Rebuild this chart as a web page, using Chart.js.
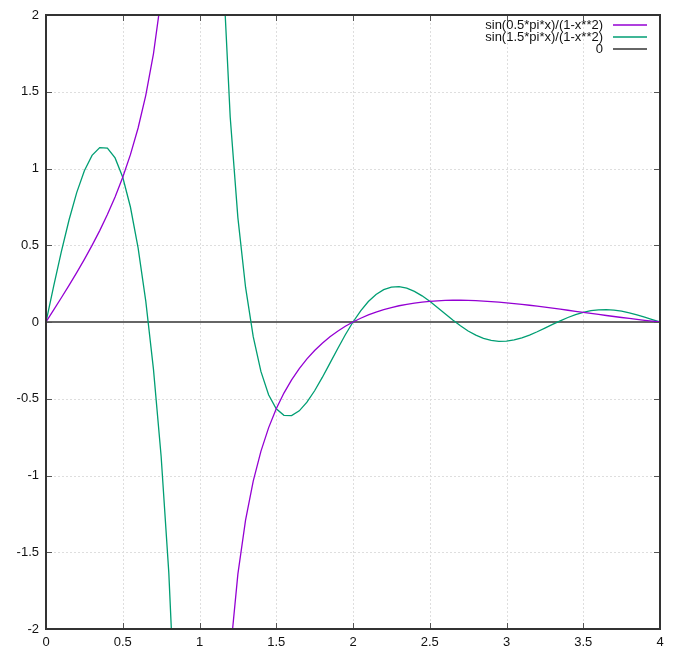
<!DOCTYPE html>
<html>
<head>
<meta charset="utf-8">
<script src="https://cdn.jsdelivr.net/npm/chart.js@4/dist/chart.umd.min.js"></script>
<style>
  html, body { margin: 0; padding: 0; background: #fff; }
  canvas { display: block; }
</style>
</head>
<body>
<canvas id="plot" width="681" height="652"></canvas>
<script>
(function () {
    "use strict";

    // sample positions along x (step 0.05)
    const xs = [
        0, 0.05, 0.1, 0.15, 0.2, 0.25, 0.3, 0.35, 0.4, 0.45, 0.5, 0.55, 0.6, 0.65, 0.7, 0.75, 0.8, 0.85, 0.9, 0.95,
        1, 1.05, 1.1, 1.15, 1.2, 1.25, 1.3, 1.35, 1.4, 1.45, 1.5, 1.55, 1.6, 1.65, 1.7, 1.75, 1.8, 1.85, 1.9, 1.95,
        2, 2.05, 2.1, 2.15, 2.2, 2.25, 2.3, 2.35, 2.4, 2.45, 2.5, 2.55, 2.6, 2.65, 2.7, 2.75, 2.8, 2.85, 2.9, 2.95,
        3, 3.05, 3.1, 3.15, 3.2, 3.25, 3.3, 3.35, 3.4, 3.45, 3.5, 3.55, 3.6, 3.65, 3.7, 3.75, 3.8, 3.85, 3.9, 3.95, 4
    ];

    // sin(0.5*pi*x)/(1-x**2)
    const halfPi = [
        0, 0.0787, 0.158, 0.2388, 0.3219, 0.4082, 0.4989, 0.5954, 0.6997, 0.8144, 0.9428, 1.0902, 1.2641, 1.4764, 1.7471, 2.1117, 2.6418, 3.504, 5.198, 10.22,
        null, -9.726, -4.703, -3.015, -2.1615, -1.6425, -1.2913, -1.0367, -0.8427, -0.6897, -0.5657, -0.4631, -0.3768, -0.3033, -0.2402, -0.1855, -0.138, -0.0964, -0.0599, -0.028,
        0, 0.0245, 0.0459, 0.0644, 0.0805, 0.0942, 0.1058, 0.1155, 0.1235, 0.1298, 0.1347, 0.1382, 0.1405, 0.1416, 0.1417, 0.1408, 0.139, 0.1365, 0.1333, 0.1294,
        0.125, 0.1201, 0.1147, 0.109, 0.1029, 0.0966, 0.0901, 0.0834, 0.0766, 0.0698, 0.0629, 0.056, 0.0492, 0.0424, 0.0358, 0.0293, 0.023, 0.0169, 0.011, 0.0054, 0
    ];

    // sin(1.5*pi*x)/(1-x**2)
    const threeHalfPi = [
        0, 0.234, 0.4586, 0.6644, 0.8427, 0.9855, 1.0854, 1.1361, 1.1322, 1.0691, 0.9428, 0.7491, 0.4828, 0.1359, -0.3067, -0.8747, -1.6327, -2.7402, -4.6895, -9.973,
        null, 9.4865, 4.2429, 2.3579, 1.3359, 0.6803, 0.2267, -0.0954, -0.3219, -0.4739, -0.5657, -0.6079, -0.6097, -0.5788, -0.5226, -0.4479, -0.3612, -0.2681, -0.1739, -0.0833,
        0, 0.0729, 0.1331, 0.1793, 0.2107, 0.2274, 0.2302, 0.2204, 0.1998, 0.1704, 0.1347, 0.095, 0.0537, 0.013, -0.0249, -0.0583, -0.0859, -0.1068, -0.1202, -0.1262,
        -0.125, -0.1171, -0.1035, -0.0852, -0.0636, -0.04, -0.0158, 0.0077, 0.0293, 0.0479, 0.0629, 0.0735, 0.0795, 0.0809, 0.0778, 0.0707, 0.0602, 0.047, 0.032, 0.016, 0
    ];

    const zeroX = [0, 4];
    const zeroY = [0, 0];

    const xTicks = [0, 0.5, 1, 1.5, 2, 2.5, 3, 3.5, 4];
    const yTicks = [-2, -1.5, -1, -0.5, 0, 0.5, 1, 1.5, 2];

    const FONT = "Liberation Sans, Arial, sans-serif";
    const pts = (xv, yv) => xv.map((x, i) => ({ x: x, y: yv[i] }));

    // gnuplot-like frame: dotted grid, heavy border, inward ticks, key at top right
    const frame = {
        id: "frame",
        beforeDatasetsDraw(chart) {
            const { ctx, chartArea: a, scales } = chart;
            ctx.save();
            ctx.strokeStyle = "#dedede";
            ctx.lineWidth = 1;
            ctx.setLineDash([2, 2]);
            xTicks.slice(1, -1).forEach((v) => {
                const px = Math.round(scales.x.getPixelForValue(v)) + 0.5;
                ctx.beginPath(); ctx.moveTo(px, a.top); ctx.lineTo(px, a.bottom); ctx.stroke();
            });
            yTicks.slice(1, -1).forEach((v) => {
                const py = Math.round(scales.y.getPixelForValue(v)) + 0.5;
                ctx.beginPath(); ctx.moveTo(a.left, py); ctx.lineTo(a.right, py); ctx.stroke();
            });
            ctx.restore();
        },
        afterDatasetsDraw(chart) {
            const { ctx, chartArea: a, scales } = chart;
            ctx.save();
            ctx.strokeStyle = "#555";
            ctx.lineWidth = 1;
            xTicks.forEach((v) => {
                const px = Math.round(scales.x.getPixelForValue(v)) + 0.5;
                ctx.beginPath(); ctx.moveTo(px, a.bottom); ctx.lineTo(px, a.bottom - 6); ctx.stroke();
                ctx.beginPath(); ctx.moveTo(px, a.top); ctx.lineTo(px, a.top + 6); ctx.stroke();
            });
            yTicks.forEach((v) => {
                const py = Math.round(scales.y.getPixelForValue(v)) + 0.5;
                ctx.beginPath(); ctx.moveTo(a.left, py); ctx.lineTo(a.left + 6, py); ctx.stroke();
                ctx.beginPath(); ctx.moveTo(a.right, py); ctx.lineTo(a.right - 6, py); ctx.stroke();
            });
            ctx.strokeStyle = "#333";
            ctx.lineWidth = 2;
            ctx.strokeRect(a.left, a.top, a.right - a.left, a.bottom - a.top);

            // key
            ctx.font = "13px " + FONT;
            ctx.textAlign = "right";
            ctx.textBaseline = "middle";
            chart.data.datasets.forEach((ds, i) => {
                const y = 25 + i * 12;
                ctx.fillStyle = "#111";
                ctx.fillText(ds.label, 603, y + 0.5);
                ctx.strokeStyle = ds.borderColor;
                ctx.lineWidth = ds.borderWidth;
                ctx.beginPath(); ctx.moveTo(613, y); ctx.lineTo(647, y); ctx.stroke();
            });
            ctx.restore();
        },
    };

    new Chart(document.getElementById("plot"), {
        type: "line",
        data: {
            datasets: [
                { label: "sin(0.5*pi*x)/(1-x**2)", data: pts(xs, halfPi), borderColor: "#9400d3", borderWidth: 1.3 },
                { label: "sin(1.5*pi*x)/(1-x**2)", data: pts(xs, threeHalfPi), borderColor: "#009e73", borderWidth: 1.3 },
                { label: "0", data: pts(zeroX, zeroY), borderColor: "#666", borderWidth: 2 },
            ],
        },
        options: {
            responsive: false,
            animation: false,
            events: [],
            layout: { padding: { left: 0, top: 15, right: 21, bottom: 0 } },
            elements: { point: { radius: 0 }, line: { tension: 0 } },
            plugins: { legend: { display: false }, tooltip: { enabled: false } },
            scales: {
                x: {
                    type: "linear", min: 0, max: 4,
                    afterBuildTicks: (s) => { s.ticks = xTicks.map((v) => ({ value: v })); },
                    afterFit: (s) => { s.height = 23; },
                    grid: { display: false, drawTicks: false },
                    border: { display: false },
                    ticks: { padding: 6, color: "#111", font: { family: FONT, size: 13 }, maxRotation: 0, callback: (v) => String(v) },
                },
                y: {
                    type: "linear", min: -2, max: 2,
                    afterBuildTicks: (s) => { s.ticks = yTicks.map((v) => ({ value: v })); },
                    afterFit: (s) => { s.width = 46; },
                    grid: { display: false, drawTicks: false },
                    border: { display: false },
                    ticks: { padding: 7, color: "#111", font: { family: FONT, size: 13 }, callback: (v) => String(v) },
                },
            },
        },
        plugins: [frame],
    });
})();
</script>
</body>
</html>
